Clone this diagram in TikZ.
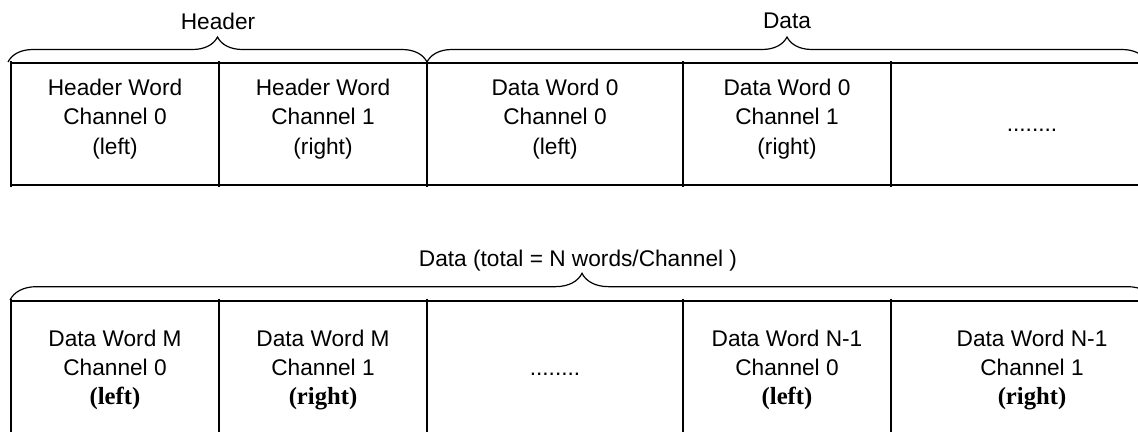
\documentclass[tikz,border=0pt]{standalone}
\usepackage{fontspec}
\setmainfont{Liberation Sans}
\newfontfamily\sidefont{Liberation Serif}
\usepackage{tikz}
\usetikzlibrary{decorations.pathreplacing}
\newcommand\chanside[1]{{\sidefont\bfseries\fontsize{18.5}{22.5}\selectfont #1}}

\begin{document}
\begin{tikzpicture}[
  x=0.75pt, y=-0.75pt,
  cell/.style={align=center, inner sep=0pt, font=\fontsize{17}{22}\selectfont},
  lbl/.style={inner sep=0pt, font=\fontsize{17}{20}\selectfont},
  rule/.style={line width=1.6pt},
  brc/.style={decorate, decoration={brace, amplitude=#1}, line width=0.9pt}
]
  \useasboundingbox (0,0) rectangle (1138,432);

  % First frame: header words and first data words
  \draw[rule] (11,63) -- (1138,63);
  \draw[rule] (11,185) -- (1138,185);
  \draw[rule] (11,61) -- (11,187);
  \draw[rule] (219,61) -- (219,187);
  \draw[rule] (427,61) -- (427,187);
  \draw[rule] (683,61) -- (683,187);
  \draw[rule] (891,61) -- (891,187);

  \node[cell] (hw0) at (115,119) {Header Word\\Channel 0\\(left)};
  \node[cell] (hw1) at (323,119) {Header Word\\Channel 1\\(right)};
  \node[cell] (dw0l) at (555,119) {Data Word 0\\Channel 0\\(left)};
  \node[cell] (dw0r) at (787,119) {Data Word 0\\Channel 1\\(right)};
  \node[cell, anchor=base] (gap1) at (1032,131) {........};

  \coordinate (hdrA) at (8,62);
  \coordinate (hdrB) at (427,62);
  \coordinate (datA) at (427,62);
  \coordinate (datB) at (1147,62);
  \draw[brc=18.75pt] (hdrA) -- (hdrB);
  \draw[brc=18.75pt] (datA) -- (datB);
  \node[lbl] (hdr) at (218,21) {Header};
  \node[lbl] (dat) at (787,21) {Data};

  % Second frame: data words M to N-1
  \draw[rule] (11,301) -- (1138,301);
  \draw[rule] (11,299) -- (11,432);
  \draw[rule] (219,299) -- (219,432);
  \draw[rule] (427,299) -- (427,432);
  \draw[rule] (683,299) -- (683,432);
  \draw[rule] (891,299) -- (891,432);

  \node[cell] (dwMl) at (115,370) {Data Word M\\Channel 0\\\chanside{(left)}};
  \node[cell] (dwMr) at (323,370) {Data Word M\\Channel 1\\\chanside{(right)}};
  \node[cell, anchor=base] (gap2) at (555,375) {........};
  \node[cell] (dwNl) at (787,370) {Data Word N-1\\Channel 0\\\chanside{(left)}};
  \node[cell] (dwNr) at (1032,370) {Data Word N-1\\Channel 1\\\chanside{(right)}};

  \coordinate (allA) at (10,300);
  \coordinate (allB) at (1154,300);
  \draw[brc=20pt] (allA) -- (allB);
  \node[lbl] (all) at (578,261) {Data (total = N words/Channel )};
\end{tikzpicture}
\end{document}
